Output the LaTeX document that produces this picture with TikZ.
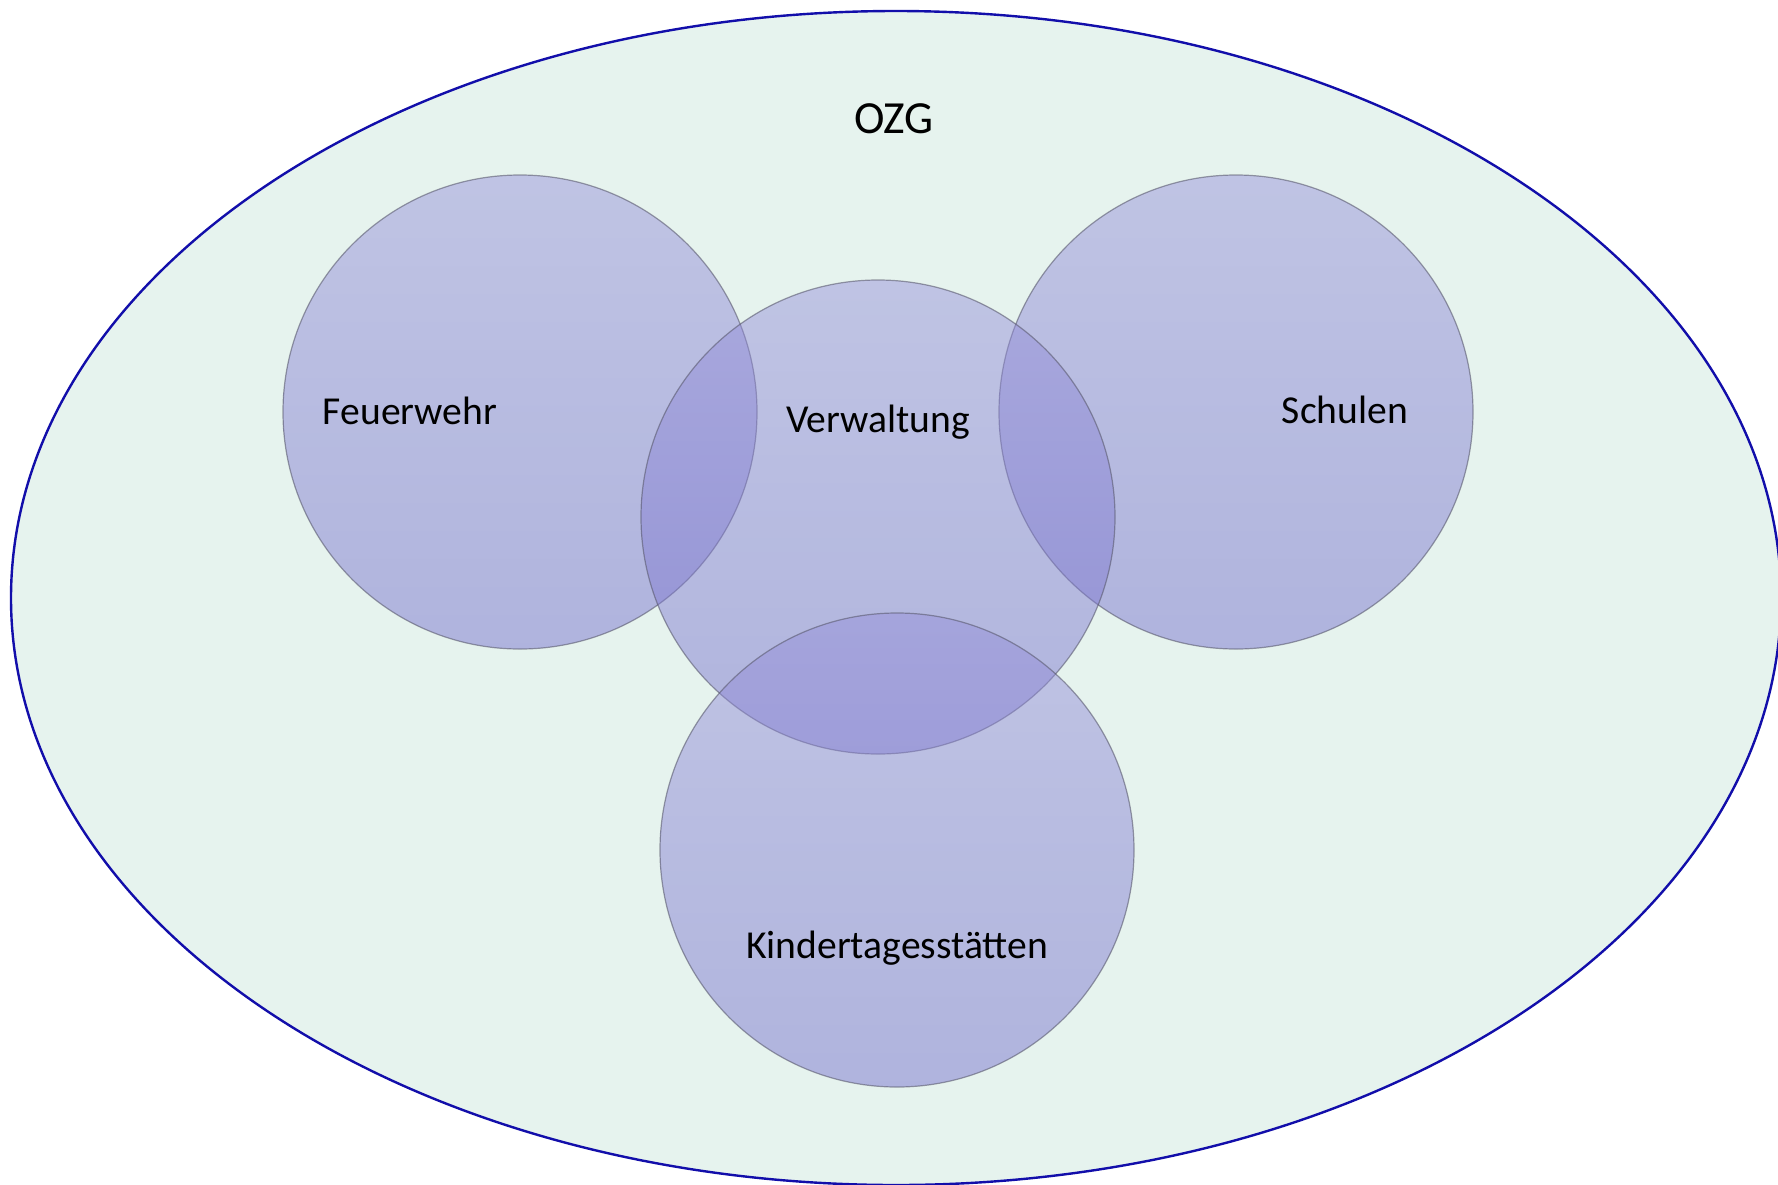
\documentclass[tikz,border=0pt]{standalone}
\usepackage{fontspec}
\setmainfont{Carlito}
\definecolor{bgfill}{RGB}{230,243,238}
\definecolor{ozgline}{RGB}{18,14,170}
\definecolor{ctop}{RGB}{149,143,217}
\definecolor{cbot}{RGB}{115,109,204}
\definecolor{cline}{RGB}{90,90,110}
\tikzset{
  venn/.style={circle, minimum size=237pt, inner sep=0pt, top color=ctop, bottom color=cbot, fill opacity=0.47, draw=cline, draw opacity=0.6, line width=0.6pt},
  lab/.style={anchor=base, inner sep=0pt, font=\fontsize{19.8}{23}\selectfont, text=black},
  biglab/.style={anchor=base, inner sep=0pt, font=\fontsize{23}{27}\selectfont, text=black}
}
\begin{document}
\begin{tikzpicture}[x=0.5pt,y=-0.5pt]
\useasboundingbox (0,0) rectangle (1778,1184);
\begin{scope}
\clip (0,0) rectangle (1778,1184);
\draw[fill=bgfill, draw=ozgline, line width=1.2pt] (896,598) ellipse [x radius=885, y radius=587];
\end{scope}
\node[biglab] (lozg) at (894,133) {OZG};
\node[venn] (fw) at (520,412) {};
\node[venn] (sch) at (1236,412) {};
\node[venn] (verw) at (878,517) {};
\node[venn] (kita) at (897,850) {};
\node[lab] (lfw) at (410,424) {Feuerwehr};
\node[lab] (lverw) at (878,432) {Verwaltung};
\node[lab] (lsch) at (1345,423) {Schulen};
\node[lab] (lkita) at (897,958) {Kindertagesstätten};
\end{tikzpicture}
\end{document}
